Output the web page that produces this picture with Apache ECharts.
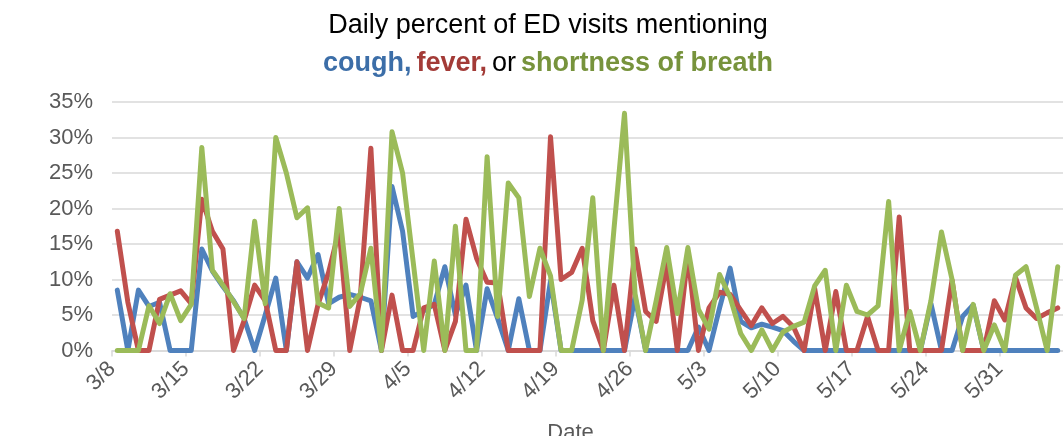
<!DOCTYPE html>
<html>
<head>
<meta charset="utf-8">
<script src="https://cdn.jsdelivr.net/npm/echarts@6/dist/echarts.min.js"></script>
<style>
html,body{margin:0;padding:0;background:#fff;}
#chart{width:1063px;height:436px;}
</style>
</head>
<body>
<div id="chart"></div>
<script>
// Dates 3/8 .. 6/5 (one point per day)
const dates = ['3/8','3/9','3/10','3/11','3/12','3/13','3/14','3/15','3/16','3/17','3/18','3/19','3/20','3/21','3/22','3/23','3/24','3/25','3/26','3/27','3/28','3/29','3/30','3/31',
  '4/1','4/2','4/3','4/4','4/5','4/6','4/7','4/8','4/9','4/10','4/11','4/12','4/13','4/14','4/15','4/16','4/17','4/18','4/19','4/20','4/21','4/22','4/23','4/24','4/25','4/26','4/27','4/28','4/29','4/30',
  '5/1','5/2','5/3','5/4','5/5','5/6','5/7','5/8','5/9','5/10','5/11','5/12','5/13','5/14','5/15','5/16','5/17','5/18','5/19','5/20','5/21','5/22','5/23','5/24','5/25','5/26','5/27','5/28','5/29','5/30','5/31',
  '6/1','6/2','6/3','6/4','6/5'];
const tickLabels = ['3/8','3/15','3/22','3/29','4/5','4/12','4/19','4/26','5/3','5/10','5/17','5/24','5/31'];
const yTicks = [0,5,10,15,20,25,30,35];

const cough = [8.5,0,8.5,6.2,6.8,0,0,0,14.3,11.2,9,7,4.5,0,5,10.2,0,12.5,10.2,13.5,6.6,7.5,7.9,7.5,
  7.0,0,23.1,16.8,4.8,5.6,6.5,11.8,5,9.2,0,8.7,4.5,0,7.3,0,0,9.8,0,0,0,0,0,0,0,7.5,0,0,0,0,
  0,3.3,0,6,11.6,4.1,3.2,3.7,3.3,2.8,1.3,0,0,0,0,0,0,0,0,0,0,0,0,6.6,0,0,4.8,6.4,0,0,0,
  0,0,0,0,0];
const fever = [16.8,6.8,0,0,7.2,7.8,8.4,6.6,21.3,16.8,14.3,0,4.2,9.2,7,0,0,12.5,0,6.5,11,17,0,7.5,
  28.5,0,7.8,0,0,6,6.5,0,4.1,18.5,13,9.6,9.5,0,0,0,0,30.1,10,11,14.4,4.2,0,9.2,0,14.3,5.5,4.1,12.2,0,
  13.5,0,6,8.2,7.9,5.7,3.5,6,3.8,4.8,3.3,0,8.7,0,8.3,0,0,4.8,0,0,18.8,0,0,0,0,9.9,0,0,0,7,4.3,
  10.3,6,4.5,5.3,6];
const breath = [0,0,0,6.3,3.8,8,4.2,6.5,28.6,11.3,9.2,6.9,4.5,18.2,6.6,30,25,18.7,20.1,6.7,6,20,6.2,8,
  14.4,0,30.8,25,12.5,0,12.6,0,17.5,0,0,27.3,4.8,23.6,21.5,7.6,14.4,10.5,0,0,7.1,21.5,0,17,33.4,8,0,7,14.5,5.2,
  14.5,5.8,3,10.7,7.5,2.4,0,2.9,0,2.6,3.4,4,9.1,11.3,0,9.2,5.5,5,6.3,21,0,5.5,0,7,16.7,10,0,6.5,0,3.6,0,
  10.6,11.8,6,0,11.8];

const colors = {cough:'#4F81BD', fever:'#C0504D', breath:'#9BBB59'};
// each day sits in the middle of its day slot on the date axis
const toPts = arr => arr.map((v,i) => [i + 0.5, v]);

const chart = echarts.init(document.getElementById('chart'), null, {renderer:'canvas'});
const labelFont = 'Liberation Sans';
chart.setOption({
  animation: false,
  backgroundColor: '#ffffff',
  title: {
    left: 543, top: 2, textAlign: 'center',
    text: '{a|Daily percent of ED visits mentioning}\n{b|cough,} {c|fever,} {d|or} {e|shortness of breath}',
    textStyle: {
      fontWeight: 'normal',
      rich: {
        a: {fontFamily: labelFont, fontSize: 27, fontWeight: 'normal', color: '#000000', lineHeight: 38},
        b: {fontFamily: labelFont, fontSize: 27, fontWeight: 'bold', color: '#3C6EA8', lineHeight: 38},
        c: {fontFamily: labelFont, fontSize: 27, fontWeight: 'bold', color: '#A33B37', lineHeight: 38},
        d: {fontFamily: labelFont, fontSize: 27, fontWeight: 'normal', color: '#000000', lineHeight: 38},
        e: {fontFamily: labelFont, fontSize: 27, fontWeight: 'bold', color: '#77933C', lineHeight: 38}
      }
    }
  },
  grid: {left: 112, right: 0, top: 102, bottom: 85.5, containLabel: false, outerBoundsMode: 'none'},
  xAxis: {
    type: 'value',
    min: 0, max: dates.length, interval: 7,
    name: 'Date', nameLocation: 'middle', nameGap: 71,
    nameTextStyle: {fontFamily: labelFont, fontSize: 22, color: '#595959', padding: [0, 34, 0, 0]},
    axisLine: {show: true, lineStyle: {color: '#D9D9D9', width: 1.5}},
    axisTick: {show: true, length: 6, lineStyle: {color: '#D9D9D9', width: 1.5}},
    splitLine: {show: false},
    axisLabel: {
      rotate: 45, margin: 15, color: '#595959', fontFamily: labelFont, fontSize: 22,
      showMaxLabel: false,
      formatter: v => (v % 7 === 0 && v / 7 < tickLabels.length) ? tickLabels[v / 7] : ''
    }
  },
  yAxis: {
    type: 'value', min: yTicks[0], max: yTicks[yTicks.length - 1], interval: 5,
    axisLine: {show: false}, axisTick: {show: false},
    splitLine: {show: true, lineStyle: {color: '#D9D9D9', width: 1.5}},
    axisLabel: {formatter: v => v + '%', color: '#595959', fontFamily: labelFont, fontSize: 22, margin: 19}
  },
  series: [
    {name: 'cough', type: 'line', data: toPts(cough), showSymbol: false, symbol: 'none',
     lineStyle: {color: colors.cough, width: 5, join: 'round', cap: 'round'}, itemStyle: {color: colors.cough}},
    {name: 'fever', type: 'line', data: toPts(fever), showSymbol: false, symbol: 'none',
     lineStyle: {color: colors.fever, width: 5, join: 'round', cap: 'round'}, itemStyle: {color: colors.fever}},
    {name: 'shortness of breath', type: 'line', data: toPts(breath), showSymbol: false, symbol: 'none',
     lineStyle: {color: colors.breath, width: 5, join: 'round', cap: 'round'}, itemStyle: {color: colors.breath}}
  ]
});
</script>
</body>
</html>
